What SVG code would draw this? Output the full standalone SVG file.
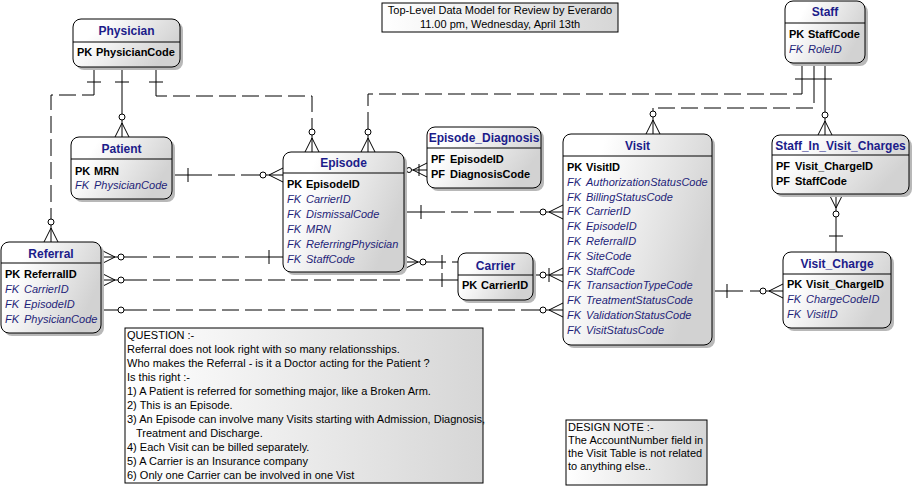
<svg xmlns="http://www.w3.org/2000/svg" width="915" height="488" viewBox="0 0 915 488">
<defs>
<linearGradient id="eg" x1="0" y1="0" x2="1" y2="0.4">
<stop offset="0.25" stop-color="#ffffff"/>
<stop offset="1" stop-color="#d2d2d2"/>
</linearGradient>
<linearGradient id="ng" x1="0" y1="0" x2="1" y2="0">
<stop offset="0" stop-color="#ffffff"/>
<stop offset="1" stop-color="#d6d6d6"/>
</linearGradient>
<style>
.box{fill:url(#eg);stroke:#000;stroke-width:1}
.sh{fill:#b8b8b8}
.dv{stroke:#000;stroke-width:1}
.t{font-family:"Liberation Sans",Arial,sans-serif;font-size:12px;font-weight:bold;fill:#1c1c8a;text-anchor:middle}
.k{font-family:"Liberation Sans",Arial,sans-serif;font-size:11px;font-weight:bold;fill:#000}
.f{font-family:"Liberation Sans",Arial,sans-serif;font-size:11px;font-style:italic;fill:#1e1e78}
.n{font-family:"Liberation Sans",Arial,sans-serif;font-size:11px;fill:#000}
.note{fill:url(#ng);stroke:#000;stroke-width:1}
.s{fill:none;stroke:#000;stroke-width:1}
.d{fill:none;stroke:#000;stroke-width:1;stroke-dasharray:17 6}
.c{fill:#fff;stroke:#000;stroke-width:1}
</style>
</defs>

<g id="connectors">
<!-- Physician -> Referral -->
<path class="s" d="M94,67 V90 M51,214 V242 M87,82 H101 M51,228 L44,242 M51,228 L58,242"/>
<path class="d" d="M94,90 V95 H51 V214"/>
<circle class="c" cx="51" cy="222" r="3"/>
<!-- Physician -> Patient -->
<path class="s" d="M122,67 V137 M115,82 H129 M122,123 L115,137 M122,123 L129,137"/>
<circle class="c" cx="122" cy="117" r="3"/>
<!-- Physician -> Episode -->
<path class="s" d="M156,67 V90 M312,124 V152 M149,82 H163 M312,138 L305,152 M312,138 L319,152"/>
<path class="d" d="M156,90 V96 H312 V124"/>
<circle class="c" cx="312" cy="132" r="3"/>
<!-- Staff -> Episode -->
<path class="s" d="M802,63 V86 M368,124 V152 M368,138 L361,152 M368,138 L375,152"/>
<path class="d" d="M802,86 V94 H368 V124"/>
<circle class="c" cx="368" cy="132" r="3"/>
<!-- Staff -> Visit -->
<path class="s" d="M814,63 V86 M653,108 V134 M653,120 L646,134 M653,120 L660,134"/>
<path class="d" d="M814,86 V108 H653"/>
<circle class="c" cx="653" cy="114" r="3"/>
<!-- Staff -> Staff_In_Visit_Charges -->
<path class="s" d="M825,63 V135 M825,121 L818,135 M825,121 L832,135 M795,79 H832"/>
<circle class="c" cx="825" cy="115" r="3"/>
<!-- Staff_In_Visit_Charges -> Visit_Charge -->
<path class="s" d="M836,194 V252 M836,208 L829,194 M836,208 L843,194 M829,236 H843"/>
<circle class="c" cx="836" cy="214" r="3"/>
<!-- Visit -> Visit_Charge -->
<path class="s" d="M712,291 H743 M750,291 H783 M727,284 V298 M769,291 L783,284 M769,291 L783,298"/>
<circle class="c" cx="763" cy="291" r="3"/>
<!-- Patient -> Episode -->
<path class="s" d="M172,175 H195 M255,175 H283 M188,168 V182 M269,175 L283,168 M269,175 L283,182"/>
<path class="d" d="M195,175 H255"/>
<circle class="c" cx="263" cy="175" r="3"/>
<!-- Episode -> Referral -->
<path class="s" d="M101,257 H130 M262,257 H283 M115,257 L101,250 M115,257 L101,264 M269,250 V264"/>
<path class="d" d="M130,257 H262"/>
<circle class="c" cx="121" cy="257" r="3"/>
<!-- Carrier -> Referral -->
<path class="s" d="M101,280 H130 M435,280 H458 M115,280 L101,273 M115,280 L101,287 M442,273 V287"/>
<path class="d" d="M130,280 H435"/>
<circle class="c" cx="121" cy="280" r="3"/>
<!-- Referral -> Visit -->
<path class="s" d="M101,310 H130 M535,310 H563 M549,310 L563,303 M549,310 L563,317"/>
<path class="d" d="M130,310 H535"/>
<circle class="c" cx="121" cy="310" r="3"/>
<circle class="c" cx="543" cy="310" r="3"/>
<!-- Carrier -> Episode -->
<path class="s" d="M404,262 H446 M452,262 H458 M418,262 L404,255 M418,262 L404,269 M442,255 V269"/>
<circle class="c" cx="423" cy="262" r="3"/>
<!-- Carrier -> Visit -->
<path class="s" d="M533,275 H563 M549,268 V282 M549,275 L563,268 M549,275 L563,282"/>
<circle class="c" cx="543" cy="275" r="3"/>
<!-- Episode -> Visit -->
<path class="s" d="M404,212 H428 M535,212 H563 M421,205 V219 M549,212 L563,205 M549,212 L563,219"/>
<path class="d" d="M428,212 H535"/>
<circle class="c" cx="543" cy="212" r="3"/>
<!-- Episode -> Episode_Diagnosis -->
<path class="s" d="M404,170 H427 M413,170 L427,163 M413,170 L427,177 M419,164 V176"/>
<circle class="c" cx="409" cy="170" r="2.5"/>
</g>

<g id="physician">
<rect class="sh" x="76" y="22" width="107" height="48" rx="8"/>
<rect class="box" x="73" y="19" width="107" height="48" rx="8"/>
<line class="dv" x1="73" y1="42" x2="180" y2="42"/>
<text class="t" x="126.5" y="35">Physician</text>
<text class="k" y="56"><tspan x="77">PK</tspan><tspan x="96">PhysicianCode</tspan></text>
</g>

<g id="patient">
<rect class="sh" x="74" y="140" width="101" height="62" rx="8"/>
<rect class="box" x="71" y="137" width="101" height="62" rx="8"/>
<line class="dv" x1="71" y1="159" x2="172" y2="159"/>
<text class="t" x="121.5" y="152.5">Patient</text>
<text class="k" y="175"><tspan x="75">PK</tspan><tspan x="94">MRN</tspan></text>
<text class="f" y="189"><tspan x="75">FK</tspan><tspan x="94">PhysicianCode</tspan></text>
</g>

<g id="episode">
<rect class="sh" x="286" y="155" width="121" height="120" rx="8"/>
<rect class="box" x="283" y="152" width="121" height="120" rx="8"/>
<line class="dv" x1="283" y1="173" x2="404" y2="173"/>
<text class="t" x="343.5" y="167">Episode</text>
<text class="k" y="188"><tspan x="287">PK</tspan><tspan x="306">EpisodeID</tspan></text>
<text class="f" y="203"><tspan x="287">FK</tspan><tspan x="306">CarrierID</tspan></text>
<text class="f" y="218"><tspan x="287">FK</tspan><tspan x="306">DismissalCode</tspan></text>
<text class="f" y="233"><tspan x="287">FK</tspan><tspan x="306">MRN</tspan></text>
<text class="f" y="248"><tspan x="287">FK</tspan><tspan x="306">ReferringPhysician</tspan></text>
<text class="f" y="263"><tspan x="287">FK</tspan><tspan x="306">StaffCode</tspan></text>
</g>

<g id="episode_diagnosis">
<rect class="sh" x="430" y="130" width="114" height="61" rx="8"/>
<rect class="box" x="427" y="127" width="114" height="61" rx="8"/>
<line class="dv" x1="427" y1="148" x2="541" y2="148"/>
<text class="t" x="484" y="141.5">Episode_Diagnosis</text>
<text class="k" y="163"><tspan x="431">PF</tspan><tspan x="450">EpisodeID</tspan></text>
<text class="k" y="178"><tspan x="431">PF</tspan><tspan x="450">DiagnosisCode</tspan></text>
</g>

<g id="visit">
<rect class="sh" x="566" y="137" width="149" height="211" rx="8"/>
<rect class="box" x="563" y="134" width="149" height="211" rx="8"/>
<line class="dv" x1="563" y1="156" x2="712" y2="156"/>
<text class="t" x="637.5" y="150">Visit</text>
<text class="k" y="171"><tspan x="567">PK</tspan><tspan x="586">VisitID</tspan></text>
<text class="f" y="185.8"><tspan x="567">FK</tspan><tspan x="586">AuthorizationStatusCode</tspan></text>
<text class="f" y="200.6"><tspan x="567">FK</tspan><tspan x="586">BillingStatusCode</tspan></text>
<text class="f" y="215.4"><tspan x="567">FK</tspan><tspan x="586">CarrierID</tspan></text>
<text class="f" y="230.2"><tspan x="567">FK</tspan><tspan x="586">EpisodeID</tspan></text>
<text class="f" y="245"><tspan x="567">FK</tspan><tspan x="586">ReferralID</tspan></text>
<text class="f" y="259.8"><tspan x="567">FK</tspan><tspan x="586">SiteCode</tspan></text>
<text class="f" y="274.6"><tspan x="567">FK</tspan><tspan x="586">StaffCode</tspan></text>
<text class="f" y="289.4"><tspan x="567">FK</tspan><tspan x="586">TransactionTypeCode</tspan></text>
<text class="f" y="304.2"><tspan x="567">FK</tspan><tspan x="586">TreatmentStatusCode</tspan></text>
<text class="f" y="319"><tspan x="567">FK</tspan><tspan x="586">ValidationStatusCode</tspan></text>
<text class="f" y="333.8"><tspan x="567">FK</tspan><tspan x="586">VisitStatusCode</tspan></text>
</g>

<g id="staff">
<rect class="sh" x="788" y="4" width="80" height="62" rx="8"/>
<rect class="box" x="785" y="1" width="80" height="62" rx="8"/>
<line class="dv" x1="785" y1="23" x2="865" y2="23"/>
<text class="t" x="825" y="16">Staff</text>
<text class="k" y="37.5"><tspan x="789">PK</tspan><tspan x="808">StaffCode</tspan></text>
<text class="f" y="52.5"><tspan x="789">FK</tspan><tspan x="808">RoleID</tspan></text>
</g>

<g id="staff_in_visit_charges">
<rect class="sh" x="775" y="138" width="137" height="59" rx="8"/>
<rect class="box" x="772" y="135" width="137" height="59" rx="8"/>
<line class="dv" x1="772" y1="155" x2="909" y2="155"/>
<text class="t" x="840.5" y="149.5">Staff_In_Visit_Charges</text>
<text class="k" y="170"><tspan x="776">PF</tspan><tspan x="795">Visit_ChargeID</tspan></text>
<text class="k" y="185"><tspan x="776">PF</tspan><tspan x="795">StaffCode</tspan></text>
</g>

<g id="carrier">
<rect class="sh" x="461" y="256" width="75" height="47" rx="8"/>
<rect class="box" x="458" y="253" width="75" height="47" rx="8"/>
<line class="dv" x1="458" y1="275" x2="533" y2="275"/>
<text class="t" x="495.5" y="269.5">Carrier</text>
<text class="k" y="289"><tspan x="462">PK</tspan><tspan x="481">CarrierID</tspan></text>
</g>

<g id="visit_charge">
<rect class="sh" x="786" y="255" width="108" height="76" rx="8"/>
<rect class="box" x="783" y="252" width="108" height="76" rx="8"/>
<line class="dv" x1="783" y1="274" x2="891" y2="274"/>
<text class="t" x="837" y="267.5">Visit_Charge</text>
<text class="k" y="288"><tspan x="787">PK</tspan><tspan x="806">Visit_ChargeID</tspan></text>
<text class="f" y="303"><tspan x="787">FK</tspan><tspan x="806">ChargeCodeID</tspan></text>
<text class="f" y="318"><tspan x="787">FK</tspan><tspan x="806">VisitID</tspan></text>
</g>

<g id="referral">
<rect class="sh" x="4" y="245" width="100" height="91" rx="8"/>
<rect class="box" x="1" y="242" width="100" height="91" rx="8"/>
<line class="dv" x1="1" y1="263" x2="101" y2="263"/>
<text class="t" x="51" y="257.5">Referral</text>
<text class="k" y="278"><tspan x="5">PK</tspan><tspan x="24">ReferralID</tspan></text>
<text class="f" y="293"><tspan x="5">FK</tspan><tspan x="24">CarrierID</tspan></text>
<text class="f" y="308"><tspan x="5">FK</tspan><tspan x="24">EpisodeID</tspan></text>
<text class="f" y="323"><tspan x="5">FK</tspan><tspan x="24">PhysicianCode</tspan></text>
</g>

<g id="title_note">
<rect class="note" x="382" y="3" width="236" height="29"/>
<text class="n" x="500" y="14" text-anchor="middle">Top-Level Data Model for Review by Everardo</text>
<text class="n" x="500" y="28" text-anchor="middle">11.00 pm, Wednesday, April 13th</text>
</g>

<g id="question_note">
<rect class="note" x="125" y="328" width="358" height="155"/>
<text class="n" x="127" y="339">QUESTION :-</text>
<text class="n" x="127" y="353">Referral does not look right with so many relationsships.</text>
<text class="n" x="127" y="367">Who makes the Referral - is it a Doctor acting for the Patient ?</text>
<text class="n" x="127" y="381">Is this right :-</text>
<text class="n" x="127" y="395">1) A Patient is referred for something major, like a Broken Arm.</text>
<text class="n" x="127" y="409">2) This is an Episode.</text>
<text class="n" x="127" y="423">3) An Episode can involve many Visits starting with Admission, Diagnosis,</text>
<text class="n" x="136" y="437">Treatment and Discharge.</text>
<text class="n" x="127" y="451">4) Each Visit can be billed separately.</text>
<text class="n" x="127" y="465">5) A Carrier is an Insurance company</text>
<text class="n" x="127" y="479">6) Only one Carrier can be involved in one Vist</text>
</g>

<g id="design_note">
<rect class="note" x="566" y="420" width="141" height="65"/>
<text class="n" x="568" y="431">DESIGN NOTE :-</text>
<text class="n" x="568" y="444">The AccountNumber field in</text>
<text class="n" x="568" y="457">the Visit Table is not related</text>
<text class="n" x="568" y="470">to anything else..</text>
</g>
</svg>
